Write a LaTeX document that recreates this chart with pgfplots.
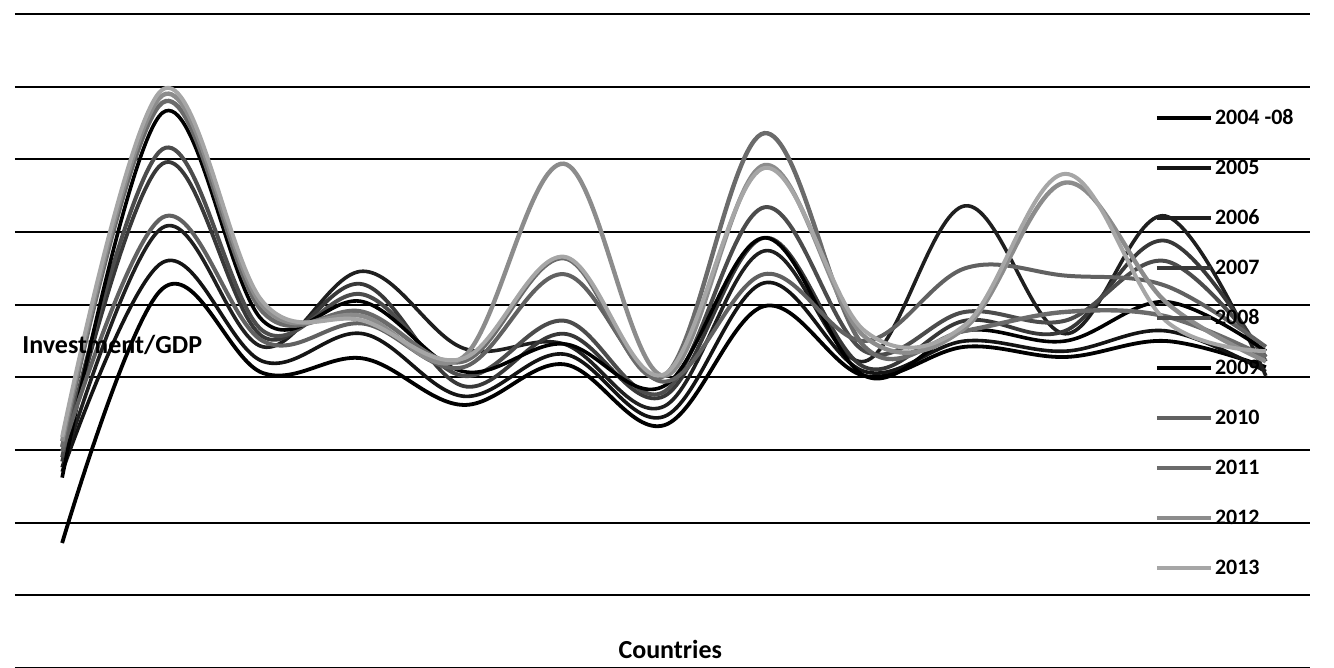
\documentclass[border=0pt]{standalone}
\usepackage{pgfplots}
\pgfplotsset{compat=1.18}
\usepackage{fontspec}
\setmainfont{Carlito}
\pgfplotstableread{
x A B C D E F G H I J
0  8.6 13.5 13.8 14.2 14.5 13.1 14.9 15.2 15.6 15.9
1 26.1 27.9 30.3 34.7 35.7 38.2 31.0 38.9 39.4 39.8
2 20.3 21.1 22.1 22.8 23.2 23.9 22.5 24.5 24.9 25.2
3 21.3 23.0 27.3 26.4 25.7 25.2 23.7 24.5 24.2 23.9
4 18.1 18.7 22.0 19.4 20.1 20.4 20.7 21.1 21.4 21.3
5 20.9 21.6 22.3 23.0 23.9 22.3 27.1 28.2 34.7 28.3
6 16.7 17.3 18.0 18.7 19.0 19.4 19.7 20.1 20.1 20.2
7 24.9 26.5 28.7 29.6 31.7 29.6 27.1 36.8 34.6 34.4
8 20.1 20.4 21.1 20.7 21.8 20.1 22.5 22.1 22.8 23.2
9 22.1 22.5 31.8 23.9 24.5 23.2 27.5 23.2 23.4 23.6
10 21.4 21.8 23.0 23.2 23.9 22.5 27.0 24.5 33.4 34.0
11 22.5 23.2 31.1 29.4 28.0 25.2 26.3 24.2 25.2 23.9
12 20.7 20.4 20.1 21.1 21.4 21.8 22.1 21.4 21.1 21.8
}\data
\begin{document}
\begin{tikzpicture}
\begin{axis}[
  scale only axis, width=647.5pt, height=327pt,
  xmin=-0.47, xmax=12.44, ymin=0, ymax=45,
  axis line style={draw=none}, tick style={draw=none},
  xtick=\empty, ytick={0,5,...,45}, yticklabels={},
  ymajorgrids, grid style={black, line width=1pt},
  clip=false,
  legend cell align=left,
  legend image code/.code={\draw[#1] (0pt,0pt) -- (27pt,0pt);},
  legend style={draw=none, fill=none, at={(0.880,0.858)}, anchor=north west,
    inner sep=0pt, outer sep=0pt, row sep=14pt,
    font=\bfseries\fontsize{11}{13}\selectfont,
    nodes={inner sep=1pt, text height=8pt, text depth=1pt}},
  every axis plot/.append style={smooth, tension=0.6, no marks},
]
\addplot[black, line width=1.9pt] table[x=x,y=A]{\data};
\addlegendentry{2004 -08}
\addplot[black!92, line width=1.8pt] table[x=x,y=B]{\data};
\addlegendentry{2005}
\addplot[black!88, line width=1.8pt] table[x=x,y=C]{\data};
\addlegendentry{2006}
\addplot[black!78, line width=1.9pt] table[x=x,y=D]{\data};
\addlegendentry{2007}
\addplot[black!70, line width=2pt] table[x=x,y=E]{\data};
\addlegendentry{2008}
\addplot[black, line width=1.8pt] table[x=x,y=F]{\data};
\addlegendentry{2009}
\addplot[black!62, line width=2pt] table[x=x,y=G]{\data};
\addlegendentry{2010}
\addplot[black!58, line width=2.2pt] table[x=x,y=H]{\data};
\addlegendentry{2011}
\addplot[black!45, line width=2.2pt] table[x=x,y=I]{\data};
\addlegendentry{2012}
\addplot[black!35, line width=2pt] table[x=x,y=J]{\data};
\addlegendentry{2013}
\node[anchor=west, font=\bfseries\fontsize{13}{15}\selectfont, inner sep=0pt] at (rel axis cs:0.0054,0.494) {Investment/GDP};
\node[font=\bfseries\fontsize{13}{15}\selectfont, inner sep=0pt] at (rel axis cs:0.506,0.028) {Countries};
\end{axis}
\pgfresetboundingbox
\path[use as bounding box] (-7.5pt,0pt) rectangle (659.5pt,334pt);
\end{tikzpicture}
\end{document}
